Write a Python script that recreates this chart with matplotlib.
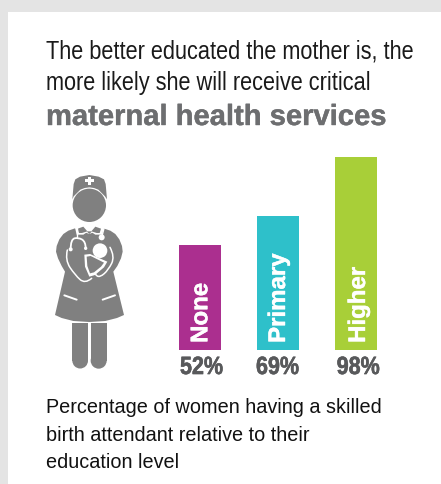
import os
import tempfile
import matplotlib
matplotlib.use("Agg")
import matplotlib.pyplot as plt
from matplotlib.patches import Rectangle, Circle, PathPatch
from matplotlib.path import Path
from matplotlib.patheffects import withStroke
from matplotlib import font_manager as fm
from fontTools.ttLib import TTFont

categories = ["None", "Primary", "Higher"]
bar_heights = [53.3, 68.0, 98.0]  # as drawn in the picture, in percent units
value_labels = ["52%", "69%", "98%"]
colors = ["#AB2F8F", "#2EC0CA", "#A8CF38"]
title_lines = ["The better educated the mother is, the", "more likely she will receive critical"]
title_bold = "maternal health services"
caption = ["Percentage of women having a skilled", "birth attendant relative to their", "education level"]

W, H = 441, 484
FONT = "Liberation Sans"
tmp = tempfile.mkdtemp()


def narrowed(weight, sx, size):
    """A horizontally narrowed copy of Liberation Sans, since no condensed face is installed."""
    src = fm.findfont(fm.FontProperties(family=FONT, weight=weight))
    font = TTFont(src)
    glyf = font["glyf"]
    for name in font.getGlyphOrder():
        g = glyf[name]
        if g.isComposite():
            for comp in g.components:
                comp.x = round(comp.x * sx)
        elif g.numberOfContours > 0:
            g.coordinates.scale((sx, 1))
            g.coordinates.toInt()
        if g.numberOfContours != 0:
            g.recalcBounds(glyf)
        adv, lsb = font["hmtx"][name]
        font["hmtx"][name] = (round(adv * sx), round(lsb * sx))
    if "kern" in font:
        for t in font["kern"].kernTables:
            t.kernTable = {k: round(v * sx) for k, v in t.kernTable.items()}
    path = os.path.join(tmp, f"narrow_{weight}_{int(sx * 1000)}.ttf")
    font.save(path)
    return fm.FontProperties(fname=path, size=size)


title_font = narrowed("regular", 0.825, 19)
caption_font = narrowed("regular", 0.95, 15)
value_font = narrowed("bold", 0.86, 18)

fig = plt.figure(figsize=(W / 100, H / 100), dpi=100, facecolor="#E4E4E4")
bg = fig.add_axes([0, 0, 1, 1])
bg.set_xlim(0, W); bg.set_ylim(H, 0); bg.axis("off")
bg.add_patch(Rectangle((8, 12), W - 8, H - 12, fc="white", ec="none"))

for y, line in zip([58, 90], title_lines):
    bg.text(46, y, line, fontproperties=title_font, color="#1A1A1A", ha="left", va="baseline")
bg.text(46, 125, title_bold, family=FONT, weight="bold", fontsize=21, color="#6D6E70",
        ha="left", va="baseline", path_effects=[withStroke(linewidth=0.3, foreground="#6D6E70")])
for y, line in zip([413.3, 441, 468], caption):
    bg.text(46, y, line, fontproperties=caption_font, color="#111111", ha="left", va="baseline")

# bar chart
left, right, top, base = 160, 400, 150, 350
ax = fig.add_axes([left / W, 1 - base / H, (right - left) / W, (base - top) / H])
ax.axis("off")
ax.set_xlim(left, right)
ax.set_ylim(0, (base - top) / 1.97)
xs = [200, 278, 356]
ax.bar(xs, bar_heights, width=42, color=colors)
for x, c, v, bx, lx in zip(xs, categories, value_labels, [207.3, 285, 365], [180, 256, 336.7]):
    ax.text(bx, 3.6, c, rotation=90, rotation_mode="anchor", ha="left", va="baseline", color="white",
            family=FONT, weight="bold", fontsize=17.3, path_effects=[withStroke(linewidth=0.3, foreground="white")])
    ax.text(lx, -12.2, v, ha="left", va="baseline", color="#58595B", fontproperties=value_font,
            clip_on=False, path_effects=[withStroke(linewidth=0.4, foreground="#58595B")])

# nurse pictogram, in zoomed reference units
grey = "#808080"
def T(p):
    return (30 + p[0] / 3, 160 + p[1] / 3)
def poly(points, fc=grey, z=3):
    pts = [T(p) for p in points]
    bg.fill([p[0] for p in pts], [p[1] for p in pts], fc=fc, ec="none", lw=0, zorder=z)
def circ(c, r, fc=grey, z=4):
    bg.add_patch(Circle(T(c), r / 3, fc=fc, ec="none", zorder=z))
def curve(points, lw=1.0, z=5, color="white"):
    pts = [T(p) for p in points]
    verts, codes = [pts[0]], [Path.MOVETO]
    for a, b in zip(pts[1:-2], pts[2:-1]):
        verts += [a, ((a[0] + b[0]) / 2, (a[1] + b[1]) / 2)]
        codes += [Path.CURVE3, Path.CURVE3]
    if len(pts) > 2:
        verts += [pts[-2], pts[-1]]
        codes += [Path.CURVE3, Path.CURVE3]
    else:
        verts += [pts[-1]]
        codes += [Path.LINETO]
    bg.add_patch(PathPatch(Path(verts, codes), fc="none", ec=color, lw=lw, zorder=z, capstyle="round"))

# cap
poly([(127, 118), (131, 72), (136, 58), (150, 50), (178, 45), (206, 50), (222, 58), (227, 72), (231, 118),
      (225, 109), (205, 89), (192, 84), (178, 82), (164, 84), (151, 89), (131, 109)])
poly([(173, 50), (183, 50), (183, 58), (191, 58), (191, 65), (183, 65), (183, 74), (173, 74), (173, 65), (165, 65), (165, 58), (173, 58)], fc="white", z=4)
circ((178, 136), 50)
# dress and torso
poly([(135, 205), (115, 212), (100, 222), (88, 238), (80, 258), (78, 275), (84, 295), (95, 318), (105, 335),
      (75, 465), (95, 474), (130, 483), (178, 486), (226, 483), (261, 474), (282, 465), (250, 335), (262, 318),
      (273, 295), (278, 275), (276, 258), (268, 238), (256, 222), (241, 212), (220, 205), (178, 222)])
# collar
poly([(135, 203), (160, 196), (178, 212), (196, 196), (222, 203), (216, 224), (196, 224), (178, 212), (160, 224), (140, 224)], fc="white", z=4)
poly([(143, 206), (160, 200), (172, 214), (156, 219), (147, 219)], z=5)
poly([(213, 206), (196, 200), (184, 214), (200, 219), (209, 219)], z=5)
poly([(170, 214), (186, 214), (178, 222)], z=5)
# arm outlines and baby
curve([(112, 270), (105, 300), (135, 345), (165, 372), (185, 355)], lw=1.1)
curve([(240, 262), (255, 290), (235, 330), (210, 352), (195, 345), (190, 328)], lw=1.1)
circ((210, 272), 22, fc="white", z=5)
poly([(163, 284), (180, 282), (232, 305), (222, 322), (195, 345), (178, 350), (165, 320)], fc="white", z=5)
poly([(170, 290), (182, 288), (222, 308), (213, 320), (192, 337), (180, 340), (172, 318)], z=6)
# stethoscope
curve([(140, 205), (140, 232)], lw=1.0)
curve([(122, 268), (122, 238), (145, 232), (167, 245), (167, 265)], lw=1.3)
circ((122, 268), 6, fc="white", z=6)
circ((167, 265), 5, fc="white", z=6)
curve([(222, 205), (216, 228)], lw=1.0)
circ((215, 232), 9, fc="white", z=6)
# pockets
curve([(103, 406), (140, 419)], lw=1.4)
curve([(218, 419), (255, 406)], lw=1.4)
# legs
for x0, x1 in [(127, 174), (182, 230)]:
    r = (x1 - x0) / 2
    bg.add_patch(Rectangle(T((x0, 490)), (x1 - x0) / 3, (602 - 490) / 3, fc=grey, ec="none", zorder=3))
    circ(((x0 + x1) / 2, 602), r, z=3)

fig.savefig("out.png", dpi=100, facecolor=fig.get_facecolor())
